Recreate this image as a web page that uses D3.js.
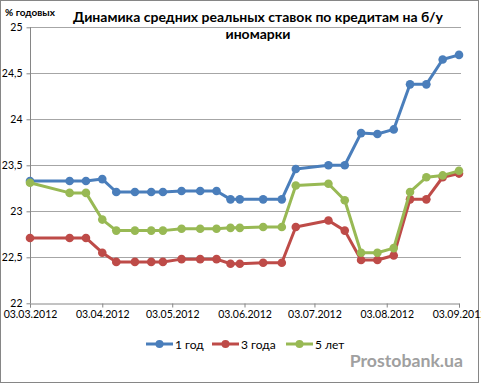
<!DOCTYPE html>
<html><head><meta charset="utf-8">
<script src="https://cdn.jsdelivr.net/npm/d3@7"></script>
<style>body{margin:0;background:#fff}svg{display:block}</style>
</head><body><svg id="c" width="481" height="385"></svg>
<script>
const dates = ["03.03.2012","20.03.2012","27.03.2012","03.04.2012","09.04.2012","17.04.2012","24.04.2012","29.04.2012","07.05.2012","15.05.2012","22.05.2012","28.05.2012","01.06.2012","11.06.2012","19.06.2012","25.06.2012","09.07.2012","16.07.2012","23.07.2012","30.07.2012","06.08.2012","13.08.2012","20.08.2012","27.08.2012","03.09.2012"];
const year1 = [23.33,23.33,23.33,23.35,23.21,23.21,23.21,23.21,23.22,23.22,23.22,23.13,23.13,23.13,23.13,23.46,23.50,23.50,23.85,23.84,23.89,24.38,24.38,24.65,24.70];
const year3 = [22.71,22.71,22.71,22.55,22.45,22.45,22.45,22.45,22.48,22.48,22.48,22.43,22.43,22.44,22.44,22.83,22.90,22.79,22.47,22.47,22.52,23.13,23.13,23.37,23.41];
const year5 = [23.31,23.20,23.20,22.91,22.79,22.79,22.79,22.79,22.81,22.81,22.81,22.82,22.82,22.83,22.83,23.28,23.30,23.12,22.55,22.55,22.60,23.21,23.37,23.39,23.44];
const seriesNames = ["1 год","3 года","5 лет"];
const xTickLabels = ["03.03.2012","03.04.2012","03.05.2012","03.06.2012","03.07.2012","03.08.2012","03.09.2012"];
const yTicks = [22,22.5,23,23.5,24,24.5,25];
const titleLines = ["Динамика средних реальных ставок по кредитам на б/у","иномарки"];
const yUnit = "% годовых";
const watermark = "Prostobank.ua";

const colors = ["#4A7EBB","#BE4B48","#98B954"];
const parse = d3.timeParse("%d.%m.%Y");
const series = [year1, year3, year5];
const svg = d3.select("#c");
const font = "Lato, 'Open Sans', sans-serif";

svg.append("rect").attr("x",0.5).attr("y",0.5).attr("width",478).attr("height",382)
  .attr("fill","#fff").attr("stroke","#868686");

const x = d3.scaleTime().domain([parse(xTickLabels[0]), parse(xTickLabels[xTickLabels.length-1])]).range([30,459]);
const y = d3.scaleLinear().domain([22,25]).range([303.3,27.3]);

// grid
svg.append("g").selectAll("line").data(yTicks.slice(1)).join("line")
  .attr("x1",30).attr("x2",461).attr("y1",d=>Math.round(y(d))+0.5).attr("y2",d=>Math.round(y(d))+0.5)
  .attr("stroke","#a6a6a6").attr("stroke-width",1);

const fmt = d => String(d).replace(".",",");
const yAxis = svg.append("g").attr("transform","translate(30.5,0)")
  .call(d3.axisLeft(y).tickValues(yTicks).tickFormat(fmt).tickSize(4).tickPadding(4));
const xAxis = svg.append("g").attr("transform",`translate(0,${Math.round(y(22))+0.5})`)
  .call(d3.axisBottom(x).tickValues(xTickLabels.map(parse)).tickFormat(d3.timeFormat("%d.%m.%Y")).tickSize(4).tickPadding(3));
[yAxis,xAxis].forEach(a=>{
  a.selectAll("path,line").attr("stroke","#868686");
  a.selectAll("text").attr("fill","#000").style("font-family",font).style("font-size","10.5px");
});
yAxis.select(".domain").attr("d",`M0,${y(25)}V${y(22)}`);

// lines
const line = d3.line().x((d,i)=>x(parse(dates[i]))).y(d=>y(d));
series.forEach((s,k)=>{
  const g = svg.append("g");
  g.append("path").attr("d",line(s)).attr("fill","none").attr("stroke",colors[k]).attr("stroke-width",3).attr("stroke-linejoin","round");
  g.selectAll("circle").data(s).join("circle")
    .attr("cx",(d,i)=>x(parse(dates[i]))).attr("cy",d=>y(d)).attr("r",4.3).attr("fill",colors[k]);
});

// title
svg.append("g").selectAll("text").data(titleLines).join("text")
  .attr("x",258).attr("y",(d,i)=>22+i*17).attr("text-anchor","middle")
  .style("font-family",font).style("font-weight","bold").style("font-size","14px").text(d=>d);
svg.append("text").attr("x",5).attr("y",16).style("font-family",font).style("font-weight","bold").style("font-size","10px").text(yUnit);

// legend
const lx = [146,212,286];
seriesNames.forEach((n,k)=>{
  const g = svg.append("g").attr("transform",`translate(${lx[k]},344)`);
  g.append("line").attr("x1",0).attr("x2",27).attr("stroke",colors[k]).attr("stroke-width",3);
  g.append("circle").attr("cx",13.5).attr("r",4).attr("fill",colors[k]);
  g.append("text").attr("x",29).attr("y",4.5).style("font-family",font).style("font-size","12px").text(n);
});

svg.append("text").attr("x",463).attr("y",367).attr("text-anchor","end")
  .style("font-family",font).style("font-weight","bold").style("font-size","17.7px").attr("fill","#a0a0a0").text(watermark);
</script></body></html>
